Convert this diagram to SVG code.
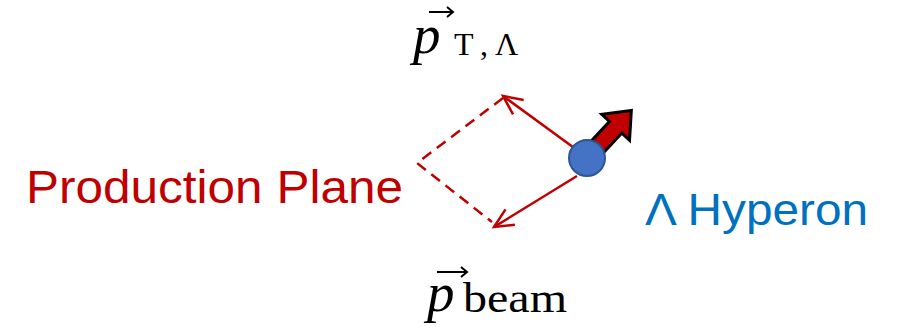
<svg xmlns="http://www.w3.org/2000/svg" width="898" height="331" viewBox="0 0 898 331">
<style>
.red{fill:none;stroke:#C00000;stroke-width:2.5}
.dash{stroke-dasharray:11 7}
.math{font-family:"Liberation Serif","DejaVu Serif",serif;fill:#000}
.lbl{font-family:"Liberation Sans",Arial,sans-serif}
.vec{fill:none;stroke:#000;stroke-width:2}
</style>
<defs>
<marker id="open" markerUnits="userSpaceOnUse" markerWidth="30" markerHeight="30" viewBox="-25 -15 30 30" refX="0" refY="0" orient="auto">
<path d="M-19,-9 L0,0 L-19,9" fill="none" stroke="#C00000" stroke-width="2.5"/>
</marker>
</defs>
<rect width="898" height="331" fill="#fff"/>
<g id="connectors">
<path class="red dash" d="M503,98 L417,163 L492,222"/>
<path class="red" d="M577,150 L503,96" marker-end="url(#open)"/>
<path class="red" d="M577,176 L494,227" marker-end="url(#open)"/>
<g id="spin-arrow" transform="translate(587,158) rotate(-47)">
<polygon points="8,-8.5 42,-8.5 42,-19 65,0 42,19 42,8.5 8,8.5" fill="#C00000" stroke="#000" stroke-width="3" stroke-linejoin="miter"/>
</g>
</g>
<g id="hyperon">
<circle cx="587" cy="158" r="18" fill="#4472C4" stroke="#2F5597" stroke-width="2"/>
</g>
<g id="label-production-plane">
<text class="lbl" x="26" y="203" font-size="46" fill="#C00000" textLength="377" lengthAdjust="spacingAndGlyphs">Production Plane</text>
</g>
<g id="label-hyperon">
<text class="lbl" x="645" y="225" font-size="44" fill="#0070C0" textLength="223" lengthAdjust="spacingAndGlyphs">Λ Hyperon</text>
</g>
<g id="label-pT">
<text class="math" x="413" y="53" font-size="55" font-style="italic">p</text>
<path class="vec" d="M429,12 H453 M447,7 L453,12 L447,17"/>
<text class="math" x="454" y="55" font-size="32">T</text>
<text class="math" x="480" y="55" font-size="32">,</text>
<text class="math" x="495" y="55" font-size="32">Λ</text>
</g>
<g id="label-pbeam">
<text class="math" x="427" y="311" font-size="55" font-style="italic">p</text>
<path class="vec" d="M437,272 H467 M461,267 L467,272 L461,277"/>
<text class="math" x="463" y="312" font-size="43" textLength="104" lengthAdjust="spacingAndGlyphs">beam</text>
</g>
</svg>
